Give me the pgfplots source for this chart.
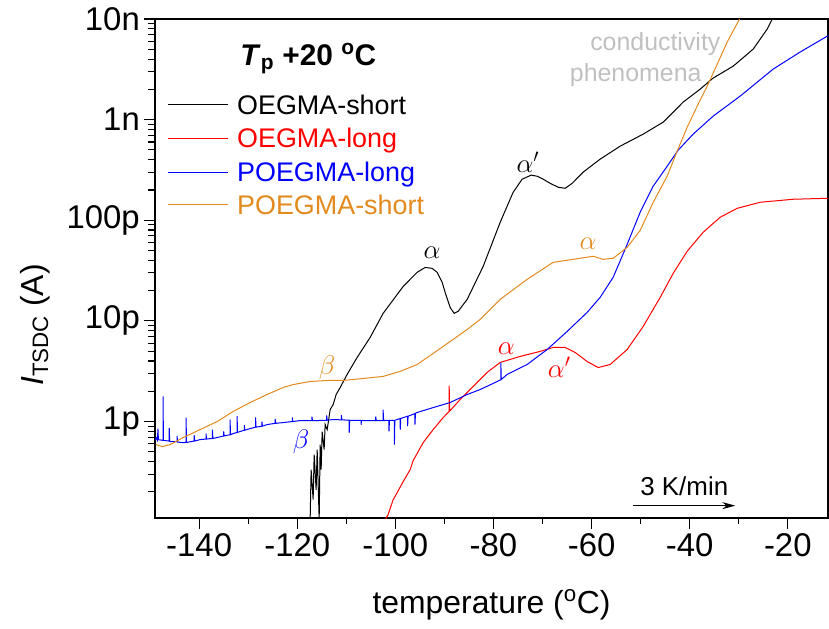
\documentclass[border=0pt]{standalone}
\usepackage{fix-cm}
\usepackage{pgfplots}
\pgfplotsset{compat=1.18}
\usepackage{fontspec}
\setmainfont{Liberation Sans}
\usetikzlibrary{arrows.meta}
\definecolor{myorange}{RGB}{226,138,30}
\definecolor{mygray}{RGB}{192,192,192}
\definecolor{myred}{RGB}{255,0,0}
\definecolor{myblue}{RGB}{0,0,255}
\begin{document}
\begin{tikzpicture}
\begin{axis}[
  scale only axis, width=673bp, height=499bp,
  anchor=south west, at={(0,0)},
  xmin=-149, xmax=-11.8, ymode=log, ymin=1.1e-13, ymax=1e-8,
  xtick={-140,-120,-100,-80,-60,-40,-20},
  xticklabels={-140,-120,-100,-80,-60,-40,-20},
  minor xtick={-150,-130,-110,-90,-70,-50,-30,-10},
  ytick={1e-12,1e-11,1e-10,1e-9,1e-8},
  yticklabels={1p,10p,100p,1n,10n},
  minor ytick={2e-13,3e-13,4e-13,5e-13,6e-13,7e-13,8e-13,9e-13,
    2e-12,3e-12,4e-12,5e-12,6e-12,7e-12,8e-12,9e-12,
    2e-11,3e-11,4e-11,5e-11,6e-11,7e-11,8e-11,9e-11,
    2e-10,3e-10,4e-10,5e-10,6e-10,7e-10,8e-10,9e-10,
    2e-9,3e-9,4e-9,5e-9,6e-9,7e-9,8e-9,9e-9},
  xtick pos=bottom, ytick pos=left, tick align=outside,
  major tick length=11bp, minor tick length=6.5bp,
  every tick/.style={black, line width=1.1bp},
  axis line style={line width=1.5bp},
  xticklabel style={font=\fontsize{33}{33}\selectfont, inner sep=0bp, yshift=-4bp},
  yticklabel style={font=\fontsize{33}{33}\selectfont, inner sep=0bp, xshift=-4bp},
  xlabel={temperature (\textsuperscript{o}C)},
  ylabel={\textit{I}\textsubscript{TSDC} (A)},
  xlabel style={font=\fontsize{32}{32}\selectfont, at={(axis description cs:0.5,-0.174)}, anchor=center},
  ylabel style={font=\fontsize{32}{32}\selectfont, at={(axis description cs:-0.178,0.387)}, anchor=center, rotate=0},
  every axis plot/.append style={line width=1bp},
]
\addplot[color=black] coordinates {(-117.37,1.06e-13)(-117.17,3.33e-13)(-116.76,1.675e-13)(-116.55,4.70e-13)(-116.15,2.10e-13)(-115.94,5.26e-13)(-115.53,1.06e-13)(-115.33,5.90e-13)(-115.13,3.33e-13)(-114.92,7.94e-13)(-114.52,5.26e-13)(-114.31,9.33e-13)(-113.90,8.32e-13)(-113.29,1.315e-12)(-112.68,1.476e-12)(-112.07,1.858e-12)(-111.25,2.178e-12)(-109.83,2.94e-12)(-107.79,4.34e-12)(-105.14,6.85e-12)(-102.49,1.189e-11)(-98.41,2.20e-11)(-95.56,3.04e-11)(-93.92,3.40e-11)(-92.50,3.33e-11)(-91.48,3.04e-11)(-90.46,2.42e-11)(-89.85,1.92e-11)(-88.83,1.36e-11)(-88.01,1.189e-11)(-87.20,1.245e-11)(-85.36,1.637e-11)(-82.10,3.48e-11)(-78.63,9.55e-11)(-75.98,1.90e-10)(-74.15,2.56e-10)(-72.31,2.81e-10)(-71.09,2.74e-10)(-69.87,2.56e-10)(-68.44,2.33e-10)(-66.81,2.13e-10)(-65.38,2.08e-10)(-63.95,2.33e-10)(-61.71,3.01e-10)(-58.25,4.05e-10)(-54.17,5.45e-10)(-49.48,7.18e-10)(-45.40,9.44e-10)(-41.33,1.493e-9)(-37.86,2.01e-9)(-35.21,2.59e-9)(-31.13,3.40e-9)(-27.05,5.02e-9)(-24.20,7.94e-9)(-22.57,1.148e-8)};
\addplot[color=myred] coordinates {(-102.08,1.06e-13)(-101.47,1.189e-13)(-100.45,1.675e-13)(-99.63,1.968e-13)(-98.41,2.53e-13)(-96.98,3.33e-13)(-96.37,4.09e-13)(-94.33,6.18e-13)(-92.29,8.32e-13)(-90.25,1.096e-12)(-89.03,1.259e-12)(-89.03,2.28e-12)(-88.93,1.27e-12)(-88.83,1.285e-12)(-86.79,1.656e-12)(-84.14,2.23e-12)(-81.28,3.08e-12)(-78.63,3.87e-12)(-74.56,4.44e-12)(-70.48,4.98e-12)(-67.83,5.45e-12)(-65.38,5.45e-12)(-63.34,4.86e-12)(-60.90,3.95e-12)(-58.65,3.44e-12)(-56.21,3.69e-12)(-52.74,5.20e-12)(-49.48,8.81e-12)(-46.01,1.714e-11)(-43.36,2.97e-11)(-40.51,4.92e-11)(-37.25,7.60e-11)(-33.78,1.072e-10)(-30.31,1.315e-10)(-25.63,1.510e-10)(-18.90,1.618e-10)(-11.56,1.656e-10)};
\addplot[color=myblue] coordinates {(-148.9,6.6e-13)(-148.77,6.93e-13)(-148.5,6.5e-13)(-148.4,8.5e-13)(-148.3,6.6e-13)(-147.34,6.5e-13)(-147.34,1.774e-12)(-147.3,6.5e-13)(-146.1,6.4e-13)(-146.1,8.65e-13)(-146.0,6.4e-13)(-145.91,6.32e-13)(-144.5,6.3e-13)(-144.5,7.2e-13)(-144.4,6.25e-13)(-143.26,6.18e-13)(-142.65,6.2e-13)(-142.65,1.096e-12)(-142.6,6.2e-13)(-141.0,6.4e-13)(-141.0,7.3e-13)(-140.9,6.4e-13)(-139.80,6.62e-13)(-138.6,6.7e-13)(-138.6,7.6e-13)(-138.5,6.7e-13)(-137.3,6.8e-13)(-137.3,8.32e-13)(-137.2,6.8e-13)(-136.33,6.93e-13)(-135.0,7.2e-13)(-135.0,8.0e-13)(-134.9,7.2e-13)(-133.7,7.4e-13)(-133.7,1.047e-12)(-133.6,7.4e-13)(-133.07,7.60e-13)(-132.25,7.8e-13)(-132.25,1.13e-12)(-132.2,7.8e-13)(-130.8,8.2e-13)(-130.8,9.2e-13)(-130.7,8.2e-13)(-129.60,8.51e-13)(-128.5,8.8e-13)(-128.5,1.1e-12)(-128.4,8.8e-13)(-127.2,9.0e-13)(-127.2,1.0e-12)(-127.1,9.0e-13)(-126.14,9.33e-13)(-124.5,9.6e-13)(-124.5,1.06e-12)(-124.4,9.6e-13)(-122.87,9.77e-13)(-121.0,1.0e-12)(-121.0,1.1e-12)(-120.9,1.0e-12)(-119.41,1.023e-12)(-117.0,1.023e-12)(-117.0,1.12e-12)(-116.9,1.023e-12)(-115.94,1.023e-12)(-114.0,1.03e-12)(-114.0,1.15e-12)(-113.9,1.03e-12)(-112.68,1.047e-12)(-111.0,1.04e-12)(-111.0,1.16e-12)(-110.9,1.04e-12)(-109.4,1.03e-12)(-109.4,7.78e-13)(-109.3,1.03e-12)(-107.0,1.025e-12)(-107.0,9.3e-13)(-106.9,1.025e-12)(-105.75,1.023e-12)(-104.0,1.023e-12)(-104.0,1.12e-12)(-103.9,1.023e-12)(-102.5,1.023e-12)(-102.5,1.315e-12)(-102.4,1.023e-12)(-101.3,1.03e-12)(-101.3,8.0e-13)(-101.2,1.03e-12)(-100.2,1.03e-12)(-100.2,5.9e-13)(-100.1,1.03e-12)(-99.02,1.072e-12)(-99.0,8.32e-13)(-98.9,1.075e-12)(-97.5,1.13e-12)(-97.5,9.0e-13)(-97.4,1.13e-12)(-96.0,1.2e-12)(-96.0,9.33e-13)(-95.9,1.21e-12)(-95.56,1.230e-12)(-92.29,1.377e-12)(-88.83,1.545e-12)(-85.36,1.858e-12)(-82.71,2.08e-12)(-78.5,2.6e-12)(-78.5,3.87e-12)(-78.4,2.62e-12)(-77.21,2.94e-12)(-73.13,3.69e-12)(-69.05,5.20e-12)(-64.97,7.87e-12)(-60.90,1.216e-11)(-58.25,1.714e-11)(-55.60,2.71e-11)(-52.74,5.77e-11)(-50.09,1.202e-10)(-47.44,2.18e-10)(-44.59,3.44e-10)(-42.34,4.98e-10)(-39.29,7.18e-10)(-35.21,1.084e-9)(-29.70,1.714e-9)(-22.98,3.18e-9)(-17.47,4.70e-9)(-11.56,6.93e-9)};
\addplot[color=myorange] coordinates {(-148.77,5.90e-13)(-147.54,5.64e-13)(-145.91,5.90e-13)(-143.26,6.93e-13)(-139.80,8.32e-13)(-136.33,1.0e-12)(-133.07,1.259e-12)(-129.60,1.545e-12)(-126.14,1.858e-12)(-122.87,2.178e-12)(-120.84,2.33e-12)(-117.37,2.50e-12)(-113.90,2.56e-12)(-110.64,2.56e-12)(-106.56,2.68e-12)(-102.49,2.81e-12)(-99.02,3.15e-12)(-95.56,3.69e-12)(-92.29,4.75e-12)(-88.22,6.55e-12)(-85.36,8.22e-12)(-82.71,1.035e-11)(-78.63,1.637e-11)(-73.13,2.59e-11)(-67.83,3.82e-11)(-63.75,4.09e-11)(-59.67,4.39e-11)(-57.64,4.09e-11)(-55.60,4.19e-11)(-52.74,5.38e-11)(-50.09,7.94e-11)(-47.44,1.510e-10)(-44.59,2.74e-10)(-42.55,4.86e-10)(-40.51,8.41e-10)(-38.47,1.362e-9)(-36.23,2.25e-9)(-32.35,5.90e-9)(-29.29,1.122e-8)};
% legend
\node[anchor=base west, font=\fontsize{30}{30}\selectfont\bfseries] at (axis description cs:0.1218,0.9078) {\textit{T}\textsubscript{p} +20 \textsuperscript{o}C};
\draw[black, line width=1bp] (axis description cs:0.0193,0.8277) -- (axis description cs:0.1085,0.8277);
\draw[myred, line width=1bp] (axis description cs:0.0193,0.7615) -- (axis description cs:0.1085,0.7615);
\draw[myblue, line width=1bp] (axis description cs:0.0193,0.6934) -- (axis description cs:0.1085,0.6934);
\draw[myorange, line width=1bp] (axis description cs:0.0193,0.6273) -- (axis description cs:0.1085,0.6273);
\node[anchor=base west, inner sep=0bp, font=\fontsize{27}{27}\selectfont, text=black] at (axis description cs:0.1218,0.8082) {OEGMA-short};
\node[anchor=base west, inner sep=0bp, font=\fontsize{27}{27}\selectfont, text=myred] at (axis description cs:0.1218,0.7421) {OEGMA-long};
\node[anchor=base west, inner sep=0bp, font=\fontsize{27}{27}\selectfont, text=myblue] at (axis description cs:0.1218,0.6739) {POEGMA-long};
\node[anchor=base west, inner sep=0bp, font=\fontsize{27}{27}\selectfont, text=myorange] at (axis description cs:0.1218,0.6078) {POEGMA-short};
% annotations
\node[font=\fontsize{27}{27}\selectfont] at (axis cs:-92.5,4.81e-11) {$\alpha$};
\node[font=\fontsize{27}{27}\selectfont] at (axis cs:-73.0,3.78e-10) {$\alpha'$};
\node[font=\fontsize{27}{27}\selectfont, text=myorange] at (axis cs:-60.7,5.90e-11) {$\alpha$};
\node[font=\fontsize{27}{27}\selectfont, text=myorange] at (axis cs:-113.9,3.45e-12) {$\beta$};
\node[font=\fontsize{27}{27}\selectfont, text=myblue] at (axis cs:-119.2,6.3e-13) {$\beta$};
\node[font=\fontsize{27}{27}\selectfont, text=myred] at (axis cs:-77.4,5.32e-12) {$\alpha$};
\node[font=\fontsize{27}{27}\selectfont, text=myred] at (axis cs:-66.6,3.44e-12) {$\alpha'$};
\node[font=\fontsize{25}{25}\selectfont, text=mygray] at (axis cs:-47.0,5.64e-9) {conductivity};
\node[font=\fontsize{25}{25}\selectfont, text=mygray] at (axis cs:-51.0,2.8e-9) {phenomena};
\node[font=\fontsize{26}{26}\selectfont] at (axis cs:-41.1,2.25e-13) {3 K/min};
\draw[-{Stealth[length=13bp,width=7bp]}, line width=1.1bp] (axis cs:-51.5,1.46e-13) -- (axis cs:-30.7,1.46e-13);
\end{axis}
\pgfresetboundingbox
\path[use as bounding box] (-155bp,-111bp) rectangle (674bp,518bp);
\end{tikzpicture}
\end{document}
